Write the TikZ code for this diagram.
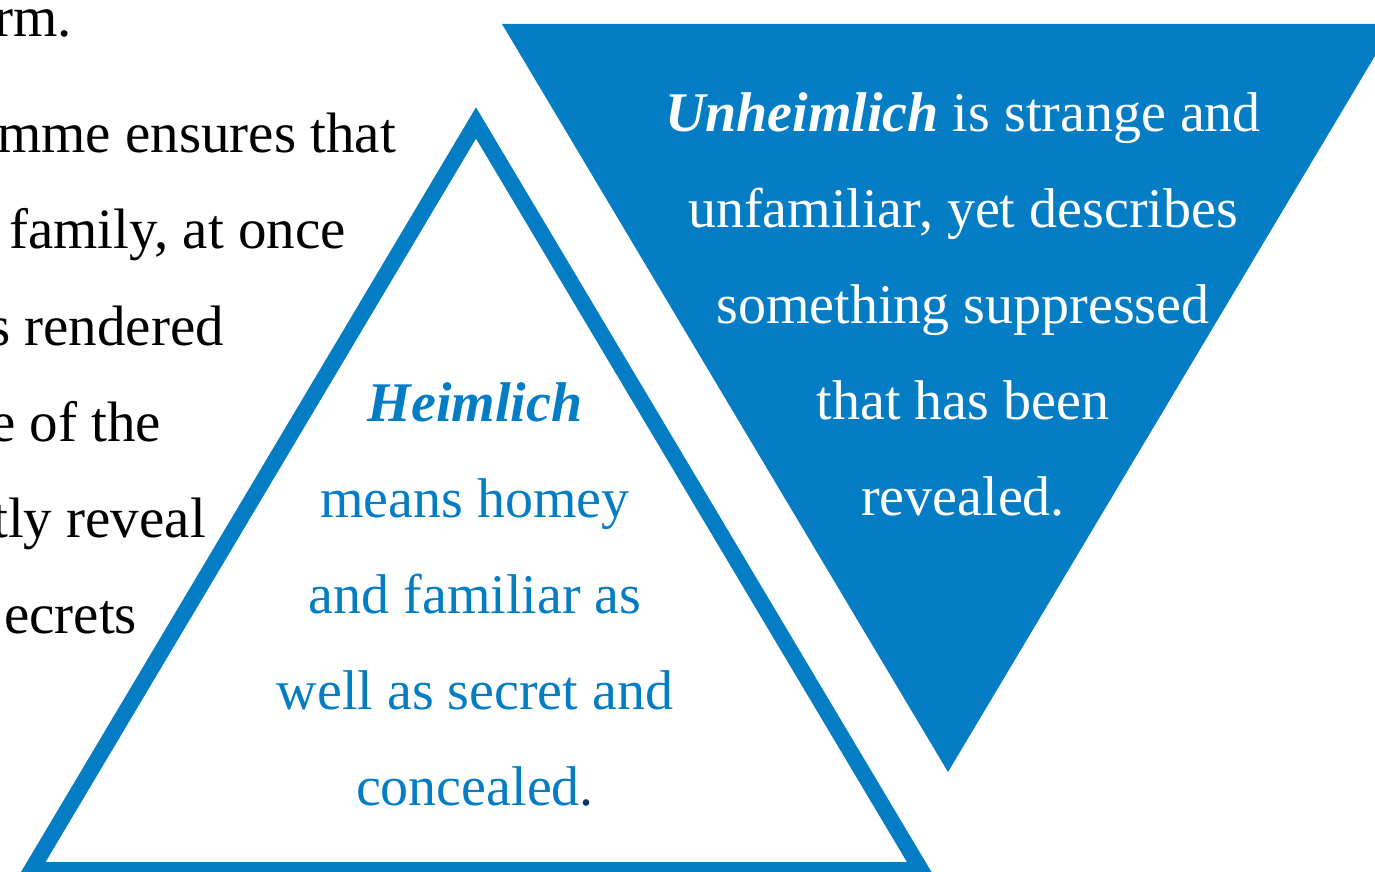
\documentclass[tikz,border=0pt]{standalone}
\usepackage{fontspec}
\setmainfont{Liberation Serif}
\definecolor{heimblue}{RGB}{4,125,197}
\definecolor{dotblue}{RGB}{20,50,95}
\tikzset{
    bodytext/.style={font=\fontsize{57}{96}\selectfont, inner sep=0pt, anchor=base west},
    block/.style={font=\fontsize{56}{96}\selectfont, inner sep=0pt, align=center, anchor=base},
}
\begin{document}
\begin{tikzpicture}[x=1pt,y=-1pt]
    \useasboundingbox (0,0) rectangle (1375,872);
    \clip (0,0) rectangle (1375,872);
    % running text on the left, cut by the page edge
    \node[bodytext] (l1) at (-6,37) {rm.};
    \node[bodytext] (l2) at (-3,152) {mme ensures that};
    \node[bodytext] (l3) at (9,248) {family, at once};
    \node[bodytext] (l4) at (-12,345) {s rendered};
    \node[bodytext] (l5) at (-10,441) {e of the};
    \node[bodytext] (l6) at (-8,537) {tly reveal};
    \node[bodytext] (l7) at (4,633) {ecrets};
    % the two triangles
    \draw[heimblue,line width=16pt] (476,123) -- (31.5,870) -- (921,870) -- cycle;
    \fill[heimblue] (502,24) -- (1394,24) -- (948,772) -- cycle;
    \node[block,text=heimblue] (heim) at (475,805)
        {\textbf{\textit{Heimlich}}\\means homey\\and familiar as\\well as secret and\\concealed\textcolor{dotblue}{.}};
    \node[block,text=white] (unheim) at (963,515)
        {\textbf{\textit{Unheimlich}} is strange and\\unfamiliar, yet describes\\something suppressed\\that has been\\revealed.};
\end{tikzpicture}
\end{document}
